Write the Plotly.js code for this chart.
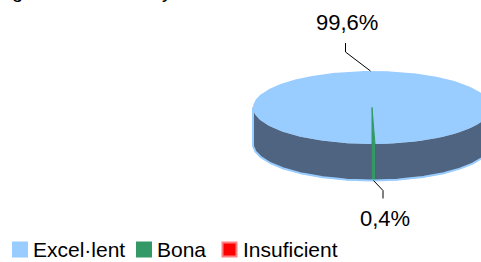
<!DOCTYPE html>
<html>
<head>
<meta charset="utf-8">
<script src="https://cdn.plot.ly/plotly-3.0.1.min.js"></script>
<style>html,body{margin:0;padding:0;background:#fff;}#chart{width:481px;height:262px;}</style>
</head>
<body>
<div id="chart"></div>
<script>
// ---- data ----
const categories = ['Excel·lent', 'Bona', 'Insuficient'];
const values = [99.6, 0.4, 0];
const topColors = ['#99CCFF', '#339966', '#FF0000'];
const sideColors = ['#4F6480', '#339966', '#CC0000'];
const legendBorder = ['#99CCFF', '#339966', '#FF8080'];

// ---- layout constants (pixel space of the plot) ----
const W = 481, H = 262;
const cx = 372, cy = 107.5, rx = 119, ry = 36.5, depth = 36.5;
const startAngle = 180;           // first slice angle, clockwise from 12 o'clock
const FONT = 'Liberation Sans, Arial, sans-serif';
const legendX = [20, 144, 229.5]; // square centres
const legendY = 249.5;

function pt(deg, dy) {
  const t = deg * Math.PI / 180;
  return [cx + rx * Math.sin(t), cy + dy - ry * Math.cos(t)];
}
function arc(a0, a1, dy) {
  const n = Math.max(2, Math.ceil(Math.abs(a1 - a0) / 1));
  const xs = [], ys = [];
  for (let k = 0; k <= n; k++) {
    const p = pt(a0 + (a1 - a0) * k / n, dy);
    xs.push(p[0]); ys.push(p[1]);
  }
  return [xs, ys];
}

const total = values.reduce((a, b) => a + b, 0);
const slices = [];
let cum = 0;
values.forEach((v, i) => {
  const a0 = startAngle + cum / total * 360;
  cum += v;
  const a1 = startAngle + cum / total * 360;
  slices.push({i, v, a0, a1, mid: (a0 + a1) / 2});
});

const traces = [];
// sides (front half only)
slices.forEach(s => {
  if (s.v <= 0) return;
  for (let k = 0; k < 3; k++) {
    const lo = Math.max(s.a0, 90 + 360 * k), hi = Math.min(s.a1, 270 + 360 * k);
    if (hi <= lo) continue;
    const top = arc(lo, hi, 0), bot = arc(hi, lo, depth);
    traces.push({
      type: 'scatter', mode: 'lines', fill: 'toself',
      x: top[0].concat(bot[0]), y: top[1].concat(bot[1]),
      fillcolor: sideColors[s.i], line: {width: 0.5, color: sideColors[s.i]},
      hoverinfo: 'skip', showlegend: false
    });
  }
});
// light rim around the side
(function () {
  const b = arc(90, 270, depth);
  const l = pt(270, 0), r = pt(90, 0);
  traces.push({
    type: 'scatter', mode: 'lines',
    x: [r[0]].concat(b[0]).concat([l[0]]), y: [r[1]].concat(b[1]).concat([l[1]]),
    line: {width: 2, color: '#99CCFF'}, hoverinfo: 'skip', showlegend: false
  });
})();
// re-draw non-first sides over the rim
slices.forEach(s => {
  if (s.v <= 0 || s.i === 0) return;
  const lo = Math.max(s.a0, 90), hi = Math.min(s.a1, 270);
  if (hi <= lo) return;
  const top = arc(lo, hi, 0), bot = arc(hi, lo, depth);
  traces.push({
    type: 'scatter', mode: 'lines', fill: 'toself',
    x: top[0].concat(bot[0]), y: top[1].concat(bot[1]),
    fillcolor: sideColors[s.i], line: {width: 0.8, color: sideColors[s.i]},
    hoverinfo: 'skip', showlegend: false
  });
});
// top faces
slices.forEach(s => {
  if (s.v <= 0) return;
  const a = arc(s.a0, s.a1, 0);
  traces.push({
    type: 'scatter', mode: 'lines', fill: 'toself',
    x: [cx].concat(a[0]).concat([cx]), y: [cy].concat(a[1]).concat([cy]),
    fillcolor: topColors[s.i], line: {width: s.i === 0 ? 0 : 1, color: topColors[s.i]},
    hoverinfo: 'skip', showlegend: false
  });
});

// labels + leader lines
const annotations = [];
slices.forEach(s => {
  if (s.v <= 0) return;
  const t = ((s.mid % 360) + 360) % 360;
  const onTop = Math.cos(t * Math.PI / 180) > 0;
  const anchor = onTop ? pt(s.mid, 0) : pt(s.mid, depth);
  let elbow, end, lab;
  if (onTop) {
    elbow = [anchor[0] - 25, anchor[1] - 19];
    end = [elbow[0], elbow[1] - 9];
    lab = [end[0] + 1, end[1] - 21];
  } else {
    elbow = [anchor[0] + 9.5, anchor[1] + 10];
    end = [elbow[0], elbow[1] + 8];
    lab = [end[0] + 2, end[1] + 20];
  }
  traces.push({
    type: 'scatter', mode: 'lines',
    x: [anchor[0], elbow[0], end[0]], y: [anchor[1], elbow[1], end[1]],
    line: {width: 1, color: '#000000'}, hoverinfo: 'skip', showlegend: false
  });
  annotations.push({
    x: lab[0], y: lab[1], xref: 'x', yref: 'y', showarrow: false,
    text: s.v.toFixed(1).replace('.', ',') + '%',
    font: {family: FONT, size: 22, color: '#000'}, xanchor: 'center', yanchor: 'middle'
  });
});

// legend (squares + text)
traces.push({
  type: 'scatter', mode: 'markers',
  x: legendX, y: categories.map(() => legendY),
  marker: {symbol: 'square', size: 14, color: topColors, line: {width: 2, color: legendBorder}},
  hoverinfo: 'skip', showlegend: false
});
categories.forEach((c, i) => {
  annotations.push({
    x: legendX[i] + 11, y: legendY, xref: 'x', yref: 'y', showarrow: false,
    text: c, font: {family: FONT, size: 21, color: '#000'}, xanchor: 'left', yanchor: 'middle'
  });
});

// clipped title fragments at the very top (title is cut off in the original)
[['g', 17.5], ['y', 166.5]].forEach(([ch, xx]) => {
  annotations.push({
    x: xx, y: 1, xref: 'x', yref: 'paper', showarrow: false, text: ch,
    font: {family: FONT, size: 20, color: '#000'}, xanchor: 'center', yanchor: 'bottom', yshift: -4
  });
});

const layout = {
  width: W, height: H,
  margin: {l: 0, r: 0, t: 0, b: 0},
  paper_bgcolor: '#ffffff', plot_bgcolor: '#ffffff',
  xaxis: {range: [0, W], visible: false, fixedrange: true},
  yaxis: {range: [H, 0], visible: false, fixedrange: true},
  showlegend: false,
  annotations: annotations
};
Plotly.newPlot('chart', traces, layout, {staticPlot: true, displayModeBar: false});
</script>
</body>
</html>
